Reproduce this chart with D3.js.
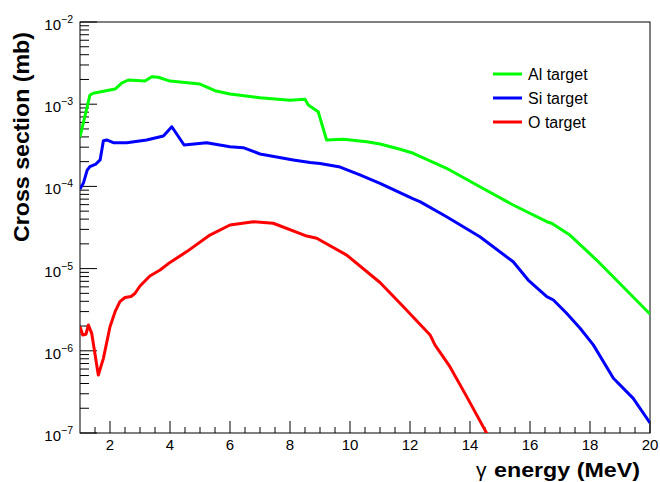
<!DOCTYPE html>
<html>
<head>
<meta charset="utf-8">
<script src="https://cdn.jsdelivr.net/npm/d3@7"></script>
<style>
  body { margin: 0; background: #fff; }
  text { font-family: "Liberation Sans", Arial, Helvetica, sans-serif; }
</style>
</head>
<body>
<div id="chart"></div>
<script>
// gamma energy (MeV) and cross sections (mb)
const alEnergy = [1.0, 1.33, 1.44, 2.17, 2.39, 2.61, 3.17, 3.39, 3.61, 4.0, 5.0, 5.5, 6.0, 7.0, 8.0, 8.5, 8.61, 8.94, 9.22, 9.78, 10.56, 11.0, 11.67, 12.11, 13.22, 14.33, 15.44, 16.56, 16.72, 17.33, 18.22, 20.0]
const alSigma = [4.0e-4, 1.29e-3, 1.36e-3, 1.53e-3, 1.80e-3, 1.97e-3, 1.91e-3, 2.16e-3, 2.13e-3, 1.91e-3, 1.76e-3, 1.46e-3, 1.33e-3, 1.20e-3, 1.12e-3, 1.15e-3, 9.8e-4, 8.1e-4, 3.67e-4, 3.74e-4, 3.50e-4, 3.28e-4, 2.83e-4, 2.53e-4, 1.66e-4, 9.9e-5, 5.94e-5, 3.72e-5, 3.56e-5, 2.56e-5, 1.27e-5, 2.8e-6]

const siEnergy = [1.0, 1.11, 1.24, 1.33, 1.53, 1.67, 1.78, 1.89, 2.11, 2.56, 3.22, 3.78, 4.06, 4.47, 5.22, 6.0, 6.44, 7.0, 8.11, 8.67, 9.0, 9.67, 10.33, 11.0, 12.11, 12.33, 13.22, 14.33, 15.44, 15.94, 16.56, 16.78, 17.22, 17.67, 18.11, 18.78, 19.44, 20.0]
const siSigma = [9.3e-5, 1.09e-4, 1.58e-4, 1.74e-4, 1.87e-4, 2.10e-4, 3.60e-4, 3.67e-4, 3.40e-4, 3.40e-4, 3.67e-4, 4.10e-4, 5.32e-4, 3.19e-4, 3.40e-4, 3.04e-4, 2.96e-4, 2.48e-4, 2.10e-4, 1.95e-4, 1.90e-4, 1.72e-4, 1.38e-4, 1.09e-4, 7.03e-5, 6.52e-5, 4.28e-5, 2.44e-5, 1.21e-5, 7.26e-6, 4.55e-6, 4.15e-6, 2.86e-6, 1.88e-6, 1.18e-6, 4.63e-7, 2.64e-7, 1.33e-7]

const oEnergy = [1.0, 1.09, 1.2, 1.28, 1.39, 1.61, 1.78, 2.0, 2.17, 2.33, 2.5, 2.7, 2.83, 3.0, 3.33, 3.67, 4.0, 4.56, 5.33, 6.0, 6.78, 7.44, 8.56, 8.89, 9.89, 11.0, 11.78, 12.67, 12.83, 13.33, 13.89, 14.56, 14.83]
const oSigma = [1.96e-6, 1.56e-6, 1.59e-6, 2.06e-6, 1.63e-6, 5.08e-7, 8.1e-7, 1.96e-6, 2.99e-6, 3.96e-6, 4.45e-6, 4.58e-6, 4.98e-6, 6.14e-6, 8.13e-6, 9.6e-6, 1.19e-5, 1.61e-5, 2.56e-5, 3.39e-5, 3.72e-5, 3.56e-5, 2.49e-5, 2.34e-5, 1.46e-5, 6.78e-6, 3.44e-6, 1.56e-6, 1.18e-6, 6.41e-7, 2.77e-7, 9.9e-8, 6.1e-8]

const seriesNames = ["Al target", "Si target", "O target"]
const seriesColors = ["#00ff00", "#0000ff", "#ff0000"]
const xTicks = [2, 4, 6, 8, 10, 12, 14, 16, 18, 20]
const yDecades = [-7, -6, -5, -4, -3, -2]

const width = 660, height = 482
const margin = { left: 80, right: 10, top: 22, bottom: 49 }

const svg = d3.select("#chart").append("svg")
    .attr("width", width)
    .attr("height", height)

svg.append("rect").attr("width", width).attr("height", height).attr("fill", "#fff")

const x = d3.scaleLinear().domain([1, 20]).range([margin.left, width - margin.right])
const y = d3.scaleLog().domain([1e-7, 1e-2]).range([height - margin.bottom, margin.top])

const x0 = x.range()[0], x1 = x.range()[1]
const y0 = y.range()[0], y1 = y.range()[1]

svg.append("clipPath").attr("id", "plotclip")
    .append("rect")
    .attr("x", x0).attr("y", y1)
    .attr("width", x1 - x0).attr("height", y0 - y1)

/* x axis ticks, pointing into the frame */
let xMinor = d3.range(1.5, 20, 0.5).filter(v => v % 2 !== 0)
svg.append("g").selectAll("line.xminor")
    .data(xMinor).enter().append("line")
    .attr("x1", d => x(d)).attr("x2", d => x(d))
    .attr("y1", y0).attr("y2", y0 - 6)
    .attr("stroke", "#000").attr("stroke-width", 1)
svg.append("g").selectAll("line.xmajor")
    .data(xTicks).enter().append("line")
    .attr("x1", d => x(d)).attr("x2", d => x(d))
    .attr("y1", y0).attr("y2", y0 - 12)
    .attr("stroke", "#000").attr("stroke-width", 1)
svg.append("g").selectAll("text.xlab")
    .data(xTicks).enter().append("text")
    .attr("x", d => x(d)).attr("y", y0 + 17)
    .attr("text-anchor", "middle")
    .attr("font-size", 15)
    .text(d => d)

/* y axis log ticks */
let yMinor = []
yDecades.slice(0, -1).forEach(p => {
    for (let k = 2; k <= 9; k++) yMinor.push(k * Math.pow(10, p))
})
svg.append("g").selectAll("line")
    .data(yMinor).enter().append("line")
    .attr("x1", x0).attr("x2", x0 + 9)
    .attr("y1", d => y(d)).attr("y2", d => y(d))
    .attr("stroke", "#000").attr("stroke-width", 1)
svg.append("g").selectAll("line")
    .data(yDecades).enter().append("line")
    .attr("x1", x0).attr("x2", x0 + 17)
    .attr("y1", d => y(Math.pow(10, d))).attr("y2", d => y(Math.pow(10, d)))
    .attr("stroke", "#000").attr("stroke-width", 1)

let ylab = svg.append("g").selectAll("text")
    .data(yDecades).enter().append("text")
    .attr("x", x0 - 7)
    .attr("y", d => y(Math.pow(10, d)) + 8)
    .attr("text-anchor", "end")
    .attr("font-size", 15)
ylab.append("tspan").text("10")
ylab.append("tspan")
    .attr("font-size", 10.5)
    .attr("dy", -7)
    .text(d => "\u2212" + Math.abs(d))

/* frame */
svg.append("rect")
    .attr("x", x0).attr("y", y1)
    .attr("width", x1 - x0).attr("height", y0 - y1)
    .attr("fill", "none").attr("stroke", "#000").attr("stroke-width", 1)

/* curves */
const series = [
    { name: seriesNames[0], color: seriesColors[0], e: alEnergy, s: alSigma },
    { name: seriesNames[1], color: seriesColors[1], e: siEnergy, s: siSigma },
    { name: seriesNames[2], color: seriesColors[2], e: oEnergy, s: oSigma }
]
const line = d3.line()
    .x(d => x(d[0]))
    .y(d => y(d[1]))

svg.append("g").attr("clip-path", "url(#plotclip)")
    .selectAll("path")
    .data(series).enter().append("path")
    .attr("d", d => line(d.e.map((v, i) => [v, d.s[i]])))
    .attr("fill", "none")
    .attr("stroke", d => d.color)
    .attr("stroke-width", 3)
    .attr("stroke-linejoin", "round")

/* legend */
let legend = svg.append("g").selectAll("g")
    .data(series).enter().append("g")
    .attr("transform", (d, i) => `translate(493,${74 + i * 24})`)
legend.append("line")
    .attr("x1", 0).attr("x2", 29)
    .attr("stroke", d => d.color).attr("stroke-width", 3)
legend.append("text")
    .attr("x", 35).attr("y", 5.5)
    .attr("font-size", 16)
    .text(d => d.name)

/* axis titles */
svg.append("text")
    .attr("x", 476).attr("y", 477)
    .attr("font-size", 21)
    .text("\u03b3")
svg.append("text")
    .attr("x", 494).attr("y", 477)
    .attr("font-size", 21)
    .attr("font-weight", "bold")
    .attr("textLength", 146)
    .attr("lengthAdjust", "spacingAndGlyphs")
    .text("energy (MeV)")

svg.append("text")
    .attr("transform", "translate(29,32) rotate(-90)")
    .attr("text-anchor", "end")
    .attr("font-size", 22)
    .attr("font-weight", "bold")
    .attr("textLength", 210)
    .attr("lengthAdjust", "spacingAndGlyphs")
    .text("Cross section (mb)")
</script>
</body>
</html>
